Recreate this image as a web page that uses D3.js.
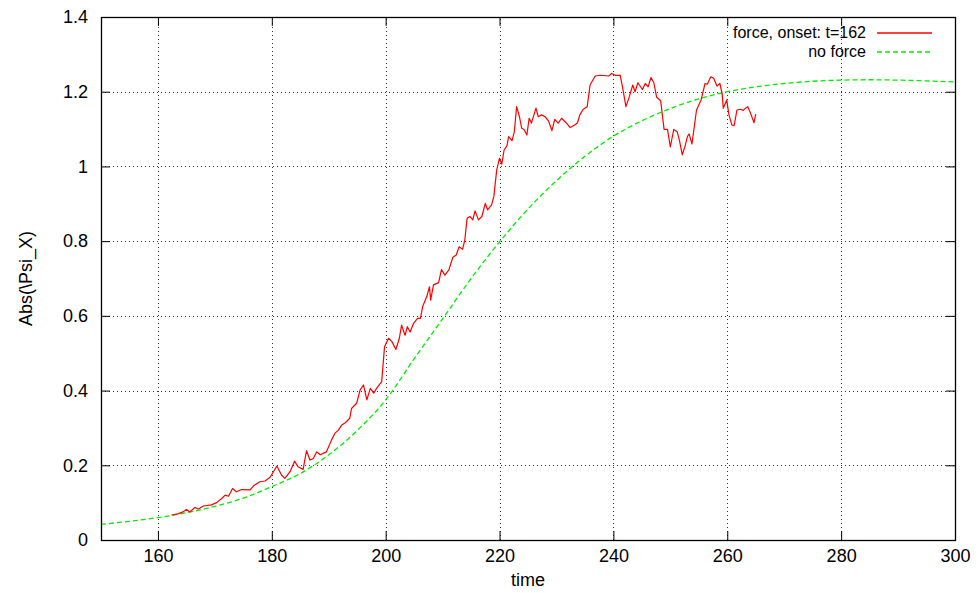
<!DOCTYPE html>
<html>
<head>
<meta charset="utf-8">
<script src="https://cdn.jsdelivr.net/npm/d3@7"></script>
<style>
  body { margin: 0; background: #fff; }
  svg { font-family: "Liberation Sans", Arial, sans-serif; }
</style>
</head>
<body>
<svg id="chart"></svg>
<script>
// x ticks / y ticks
const xTicks = [160, 180, 200, 220, 240, 260, 280, 300];
const yTicks = [0, 0.2, 0.4, 0.6, 0.8, 1, 1.2, 1.4];

// "no force" curve
const noForceTime = [150, 155, 160, 165, 170, 175, 180, 185, 190, 195, 200, 205, 210, 215,
  220, 225, 230, 235, 240, 245, 250, 255, 260, 265, 270, 275, 280, 285, 290, 295, 300];
const noForceValue = [0.042, 0.050, 0.060, 0.073, 0.090, 0.112, 0.143, 0.178, 0.228, 0.293,
  0.375, 0.485, 0.592, 0.700, 0.798, 0.886, 0.962, 1.027, 1.081, 1.122, 1.155, 1.181, 1.200,
  1.213, 1.222, 1.228, 1.231, 1.232, 1.231, 1.229, 1.226];

// "force, onset: t=162" curve
const forceTime = [162.4, 163.5, 164.5, 165.0, 165.6, 166.5, 167.1, 168.0, 169.4, 170.3, 171.2,
  171.8, 172.4, 173.1, 173.8, 174.7, 176.2, 176.8, 177.9, 178.8, 179.7, 180.9, 181.7, 182.3,
  183.2, 184.0, 184.6, 185.5, 186.1, 186.7, 187.3, 187.9, 188.5, 189.6, 190.5, 191.1, 191.7,
  192.3, 192.9, 193.7, 194.0, 194.9, 195.5, 196.1, 196.7, 197.3, 197.9, 198.4, 199.3, 199.8,
  200.5, 201.1, 201.8, 202.4, 202.8, 203.4, 203.8, 204.3, 204.9, 205.6, 206.1, 206.5, 207.2,
  207.7, 207.9, 208.4, 209.3, 209.8, 210.4, 211.1, 211.8, 212.4, 212.9, 213.5, 213.9, 214.3,
  214.8, 215.3, 215.7, 216.3, 216.9, 217.5, 217.9, 218.6, 219.0, 219.5, 220.0, 220.4, 220.8,
  221.3, 221.6, 222.2, 222.6, 223.0, 223.5, 223.9, 224.3, 224.8, 225.2, 225.6, 226.4, 226.8,
  227.4, 228.0, 228.6, 229.2, 229.7, 230.3, 230.9, 231.7, 232.4, 233.2, 233.7, 234.1, 234.7,
  235.4, 235.9, 236.8, 237.7, 239.2, 239.7, 240.3, 241.2, 241.6, 242.2, 242.8, 243.4, 243.8,
  244.3, 245.1, 245.6, 246.1, 246.6, 247.1, 247.6, 248.3, 248.9, 249.5, 250.0, 250.6, 251.2,
  251.6, 252.1, 252.6, 253.0, 253.3, 253.8, 254.6, 255.4, 256.1, 256.5, 257.1, 257.6, 258.2,
  258.7, 259.1, 259.3, 259.9, 260.3, 260.8, 261.2, 261.7, 262.3, 262.8, 263.2, 263.6, 264.1,
  264.7, 265.0];
const forceValue = [0.067, 0.070, 0.076, 0.082, 0.075, 0.087, 0.083, 0.091, 0.094, 0.100, 0.111,
  0.120, 0.117, 0.138, 0.129, 0.135, 0.134, 0.145, 0.156, 0.158, 0.168, 0.198, 0.174, 0.165,
  0.183, 0.211, 0.196, 0.189, 0.239, 0.214, 0.218, 0.236, 0.228, 0.236, 0.268, 0.286, 0.294,
  0.308, 0.314, 0.326, 0.352, 0.366, 0.401, 0.415, 0.375, 0.406, 0.393, 0.406, 0.424, 0.517,
  0.540, 0.531, 0.510, 0.540, 0.575, 0.548, 0.571, 0.557, 0.580, 0.593, 0.593, 0.625, 0.651,
  0.678, 0.642, 0.683, 0.689, 0.724, 0.709, 0.723, 0.757, 0.763, 0.785, 0.778, 0.803, 0.861,
  0.866, 0.857, 0.881, 0.857, 0.866, 0.901, 0.884, 0.897, 0.919, 0.990, 1.022, 1.006, 1.044,
  1.055, 1.080, 1.069, 1.093, 1.160, 1.133, 1.102, 1.099, 1.084, 1.129, 1.116, 1.156, 1.133,
  1.138, 1.133, 1.122, 1.096, 1.126, 1.116, 1.129, 1.117, 1.104, 1.111, 1.117, 1.138, 1.153,
  1.160, 1.218, 1.242, 1.244, 1.242, 1.249, 1.244, 1.244, 1.213, 1.160, 1.187, 1.218, 1.200,
  1.224, 1.206, 1.222, 1.213, 1.238, 1.224, 1.185, 1.176, 1.099, 1.099, 1.052, 1.099, 1.093,
  1.070, 1.031, 1.055, 1.080, 1.087, 1.060, 1.151, 1.178, 1.222, 1.220, 1.240, 1.236, 1.215,
  1.222, 1.195, 1.156, 1.178, 1.138, 1.111, 1.109, 1.151, 1.153, 1.150, 1.156, 1.160, 1.142,
  1.117, 1.140];

const seriesNames = ["force, onset: t=162", "no force"];
const seriesColors = ["#ff0000", "#00ee00"];

const width = 979, height = 593;
const margin = { top: 17, right: 24, bottom: 53, left: 101 };

const svg = d3.select("#chart").attr("width", width).attr("height", height);

const x = d3.scaleLinear().domain([150, 300]).range([margin.left, width - margin.right]);
const y = d3.scaleLinear().domain([0, 1.4]).range([height - margin.bottom, margin.top]);

const x0 = margin.left, x1 = width - margin.right;
const y0 = height - margin.bottom, y1 = margin.top;

// grid (dotted)
const grid = svg.append("g").attr("stroke", "#333").attr("stroke-width", 1)
  .attr("stroke-dasharray", "1,3");
grid.selectAll("line.vg").data(xTicks.filter(d => d < 300)).join("line").attr("class", "vg")
  .attr("x1", d => Math.round(x(d)) + 0.5).attr("x2", d => Math.round(x(d)) + 0.5)
  .attr("y1", y0).attr("y2", y1);
grid.selectAll("line.hg").data(yTicks.filter(d => d > 0 && d < 1.4)).join("line").attr("class", "hg")
  .attr("y1", d => Math.round(y(d)) + 0.5).attr("y2", d => Math.round(y(d)) + 0.5)
  .attr("x1", x0).attr("x2", x1);

// axes with inward ticks on all four sides
const tickLen = 9;
svg.append("g").attr("transform", `translate(0,${y0})`)
  .call(d3.axisBottom(x).tickValues(xTicks).tickSizeInner(-tickLen).tickSizeOuter(0).tickPadding(9))
  .call(g => g.select(".domain").remove())
  .call(g => g.selectAll("text").style("font-size", "18px").attr("fill", "#000"));
svg.append("g").attr("transform", `translate(0,${y1})`)
  .call(d3.axisTop(x).tickValues(xTicks).tickSizeInner(-tickLen).tickSizeOuter(0).tickFormat(""))
  .call(g => g.select(".domain").remove())
  .call(g => g.selectAll("text").remove());
svg.append("g").attr("transform", `translate(${x0},0)`)
  .call(d3.axisLeft(y).tickValues(yTicks).tickSizeInner(-tickLen).tickSizeOuter(0).tickPadding(13)
    .tickFormat(d3.format("~g")))
  .call(g => g.select(".domain").remove())
  .call(g => g.selectAll("text").style("font-size", "18px").attr("fill", "#000"));
svg.append("g").attr("transform", `translate(${x1},0)`)
  .call(d3.axisRight(y).tickValues(yTicks).tickSizeInner(-tickLen).tickSizeOuter(0).tickFormat(""))
  .call(g => g.select(".domain").remove())
  .call(g => g.selectAll("text").remove());

// lines
const noForce = noForceTime.map((t, i) => [t, noForceValue[i]]);
const force = forceTime.map((t, i) => [t, forceValue[i]]);

svg.append("path").datum(noForce)
  .style("fill", "none").style("stroke", seriesColors[1]).style("stroke-width", 1.3)
  .style("stroke-dasharray", "5,3")
  .attr("d", d3.line().x(d => x(d[0])).y(d => y(d[1])).curve(d3.curveMonotoneX));

svg.append("path").datum(force)
  .style("fill", "none").style("stroke", seriesColors[0]).style("stroke-width", 1.2)
  .style("stroke-linejoin", "round")
  .attr("d", d3.line().x(d => x(d[0])).y(d => y(d[1])));

// frame
svg.append("rect").attr("x", x0 + 0.5).attr("y", y1 + 0.5)
  .attr("width", x1 - x0).attr("height", y0 - y1)
  .style("fill", "none").style("stroke", "#000").style("stroke-width", 1.3);

// legend
const legend = svg.append("g");
seriesNames.forEach((name, i) => {
  const ly = 32 + i * 19;
  legend.append("text").attr("x", 866).attr("y", ly).attr("dy", "0.35em")
    .attr("text-anchor", "end").style("font-size", "16px").text(name);
  legend.append("path")
    .attr("d", d3.line()([[877, ly + 1], [932, ly + 1]]))
    .style("fill", "none")
    .style("stroke", seriesColors[i]).style("stroke-width", 1.4)
    .style("stroke-dasharray", i === 1 ? "5,3" : "none");
});

// axis titles
svg.append("text").attr("x", (x0 + x1) / 2).attr("y", 580).attr("dy", "0.35em")
  .attr("text-anchor", "middle").style("font-size", "18px").text("time");
svg.append("text").attr("transform", `translate(26,${(y0 + y1) / 2}) rotate(-90)`)
  .attr("dy", "0.35em").attr("text-anchor", "middle").style("font-size", "18px")
  .text("Abs(\\Psi_X)");
</script>
</body>
</html>
